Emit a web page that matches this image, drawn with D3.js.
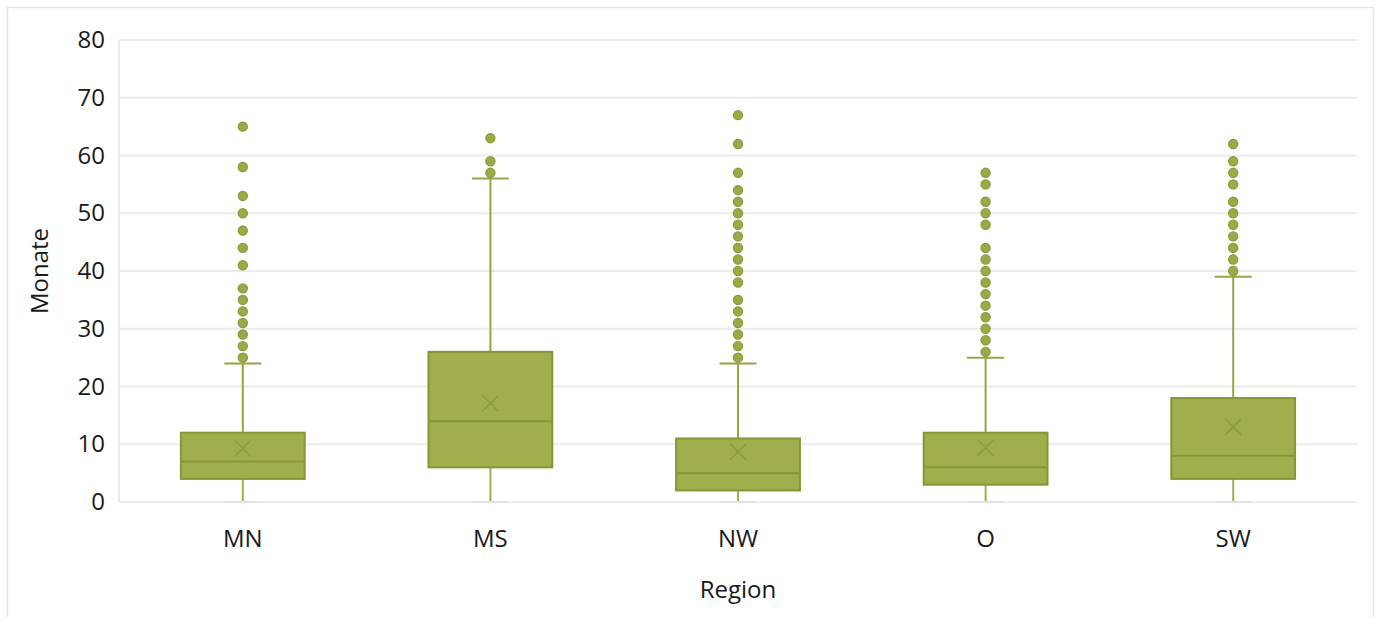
<!DOCTYPE html>
<html>
<head>
<meta charset="utf-8">
<script src="https://cdn.jsdelivr.net/npm/d3@7"></script>
<style>
  html, body { margin: 0; padding: 0; background: #fff; }
  svg { display: block; }
  text { font-family: "Open Sans", "Noto Sans", sans-serif; fill: #1a1a1a; }
</style>
</head>
<body>
<svg id="chart" width="1381" height="617"></svg>
<script>
// Duration in months by region (box-and-whisker summary)
const categories = ["MN", "MS", "NW", "O", "SW"];
const q1Values = [4, 6, 2, 3, 4];
const medianValues = [7, 14, 5, 6, 8];
const q3Values = [12, 26, 11, 12, 18];
const whiskerLow = [0, 0, 0, 0, 0];
const whiskerHigh = [24, 56, 24, 25, 39];
const meanValues = [9.3, 17.1, 8.7, 9.4, 13.0];
const outliersMN = [65, 58, 53, 50, 47, 44, 41, 37, 35, 33, 31, 29, 27, 25];
const outliersMS = [63, 59, 57];
const outliersNW = [67, 62, 57, 54, 52, 50, 48, 46, 44, 42, 40, 38, 35, 33, 31, 29, 27, 25];
const outliersO = [57, 55, 52, 50, 48, 44, 42, 40, 38, 36, 34, 32, 30, 28, 26];
const outliersSW = [62, 59, 57, 55, 52, 50, 48, 46, 44, 42, 40];
const yTicks = [0, 10, 20, 30, 40, 50, 60, 70, 80];
const xTitle = "Region";
const yTitle = "Monate";

const outlierSets = [outliersMN, outliersMS, outliersNW, outliersO, outliersSW];
const rows = categories.map((c, i) => ({
  cat: c, q1: q1Values[i], med: medianValues[i], q3: q3Values[i],
  lo: whiskerLow[i], hi: whiskerHigh[i], mean: meanValues[i], out: outlierSets[i]
}));

const fillColor = "#a0af4b";
const strokeColor = "#849735";
const gridColor = "#ebebeb";

const svg = d3.select("#chart");
const plot = { left: 119, right: 1357, top: 40, bottom: 502 };

// Outer chart frame
svg.append("rect")
  .attr("x", 7.5).attr("y", 7.5).attr("width", 1366).attr("height", 640)
  .attr("fill", "none").attr("stroke", "#e6e6e6").attr("stroke-width", 1.5);

const x = d3.scaleBand().domain(categories).range([plot.left, plot.right]).padding(0);
const y = d3.scaleLinear().domain([0, 80]).range([plot.bottom, plot.top]);

// Gridlines
const grid = svg.append("g");
grid.selectAll("line").data(yTicks).join("line")
  .attr("x1", plot.left).attr("x2", plot.right)
  .attr("y1", d => y(d)).attr("y2", d => y(d))
  .attr("stroke", gridColor).attr("stroke-width", 2);
grid.append("line")
  .attr("x1", plot.left).attr("x2", plot.left)
  .attr("y1", plot.top).attr("y2", plot.bottom)
  .attr("stroke", gridColor).attr("stroke-width", 2);

// Y axis labels
const yAxis = d3.axisLeft(y).tickValues(yTicks).tickSize(0).tickPadding(14);
const gy = svg.append("g").attr("transform", `translate(${plot.left},0)`).call(yAxis);
gy.select(".domain").remove();
gy.selectAll("text").style("font-size", "24px").attr("fill", "#1a1a1a")
  .style("font-family", "'Open Sans', sans-serif");

// X axis labels
const xAxis = d3.axisBottom(x).tickSize(0).tickPadding(28);
const gx = svg.append("g").attr("transform", `translate(0,${plot.bottom})`).call(xAxis);
gx.select(".domain").remove();
gx.selectAll("text").style("font-size", "24px").attr("fill", "#1a1a1a")
  .style("font-family", "'Open Sans', sans-serif");

// Axis titles
svg.append("text").attr("x", x(categories[2]) + x.bandwidth() / 2).attr("y", 598)
  .attr("text-anchor", "middle").style("font-size", "24px").text(xTitle);
svg.append("text").attr("transform", `translate(48,${(plot.top + plot.bottom) / 2}) rotate(-90)`)
  .attr("text-anchor", "middle").style("font-size", "24px").text(yTitle);

// Boxes
const boxW = x.bandwidth() * 0.5;
const capW = 37;
const groups = svg.append("g").selectAll("g").data(rows).join("g")
  .attr("transform", d => `translate(${x(d.cat) + x.bandwidth() / 2},0)`);

// lower whisker + cap
groups.append("line").attr("x1", 0).attr("x2", 0)
  .attr("y1", d => y(d.q1)).attr("y2", d => y(d.lo))
  .attr("stroke", fillColor).attr("stroke-width", 2);
groups.append("line").attr("x1", -capW / 2).attr("x2", capW / 2)
  .attr("y1", d => y(d.lo)).attr("y2", d => y(d.lo))
  .attr("stroke", "#e2e2e2").attr("stroke-width", 2);
// upper whisker + cap
groups.append("line").attr("x1", 0).attr("x2", 0)
  .attr("y1", d => y(d.q3)).attr("y2", d => y(d.hi))
  .attr("stroke", "#94a643").attr("stroke-width", 2);
groups.append("line").attr("x1", -capW / 2).attr("x2", capW / 2)
  .attr("y1", d => y(d.hi)).attr("y2", d => y(d.hi))
  .attr("stroke", "#94a643").attr("stroke-width", 2);

// box body
groups.append("rect")
  .attr("x", -boxW / 2).attr("width", boxW)
  .attr("y", d => y(d.q3)).attr("height", d => y(d.q1) - y(d.q3))
  .attr("fill", fillColor).attr("stroke", strokeColor).attr("stroke-width", 2);
// median
groups.append("line").attr("x1", -boxW / 2).attr("x2", boxW / 2)
  .attr("y1", d => y(d.med)).attr("y2", d => y(d.med))
  .attr("stroke", strokeColor).attr("stroke-width", 2);
// mean marker (x)
const mk = 8;
groups.append("path")
  .attr("d", d => `M${-mk},${y(d.mean) - mk}L${mk},${y(d.mean) + mk}M${-mk},${y(d.mean) + mk}L${mk},${y(d.mean) - mk}`)
  .attr("stroke", "#899b3e").attr("stroke-width", 1.6).attr("fill", "none");

// outliers
groups.selectAll("circle").data(d => d.out).join("circle")
  .attr("cx", 0).attr("cy", v => y(v)).attr("r", 4.6)
  .attr("fill", "#9aab45").attr("stroke", "#879a38").attr("stroke-width", 1.2);
</script>
</body>
</html>
